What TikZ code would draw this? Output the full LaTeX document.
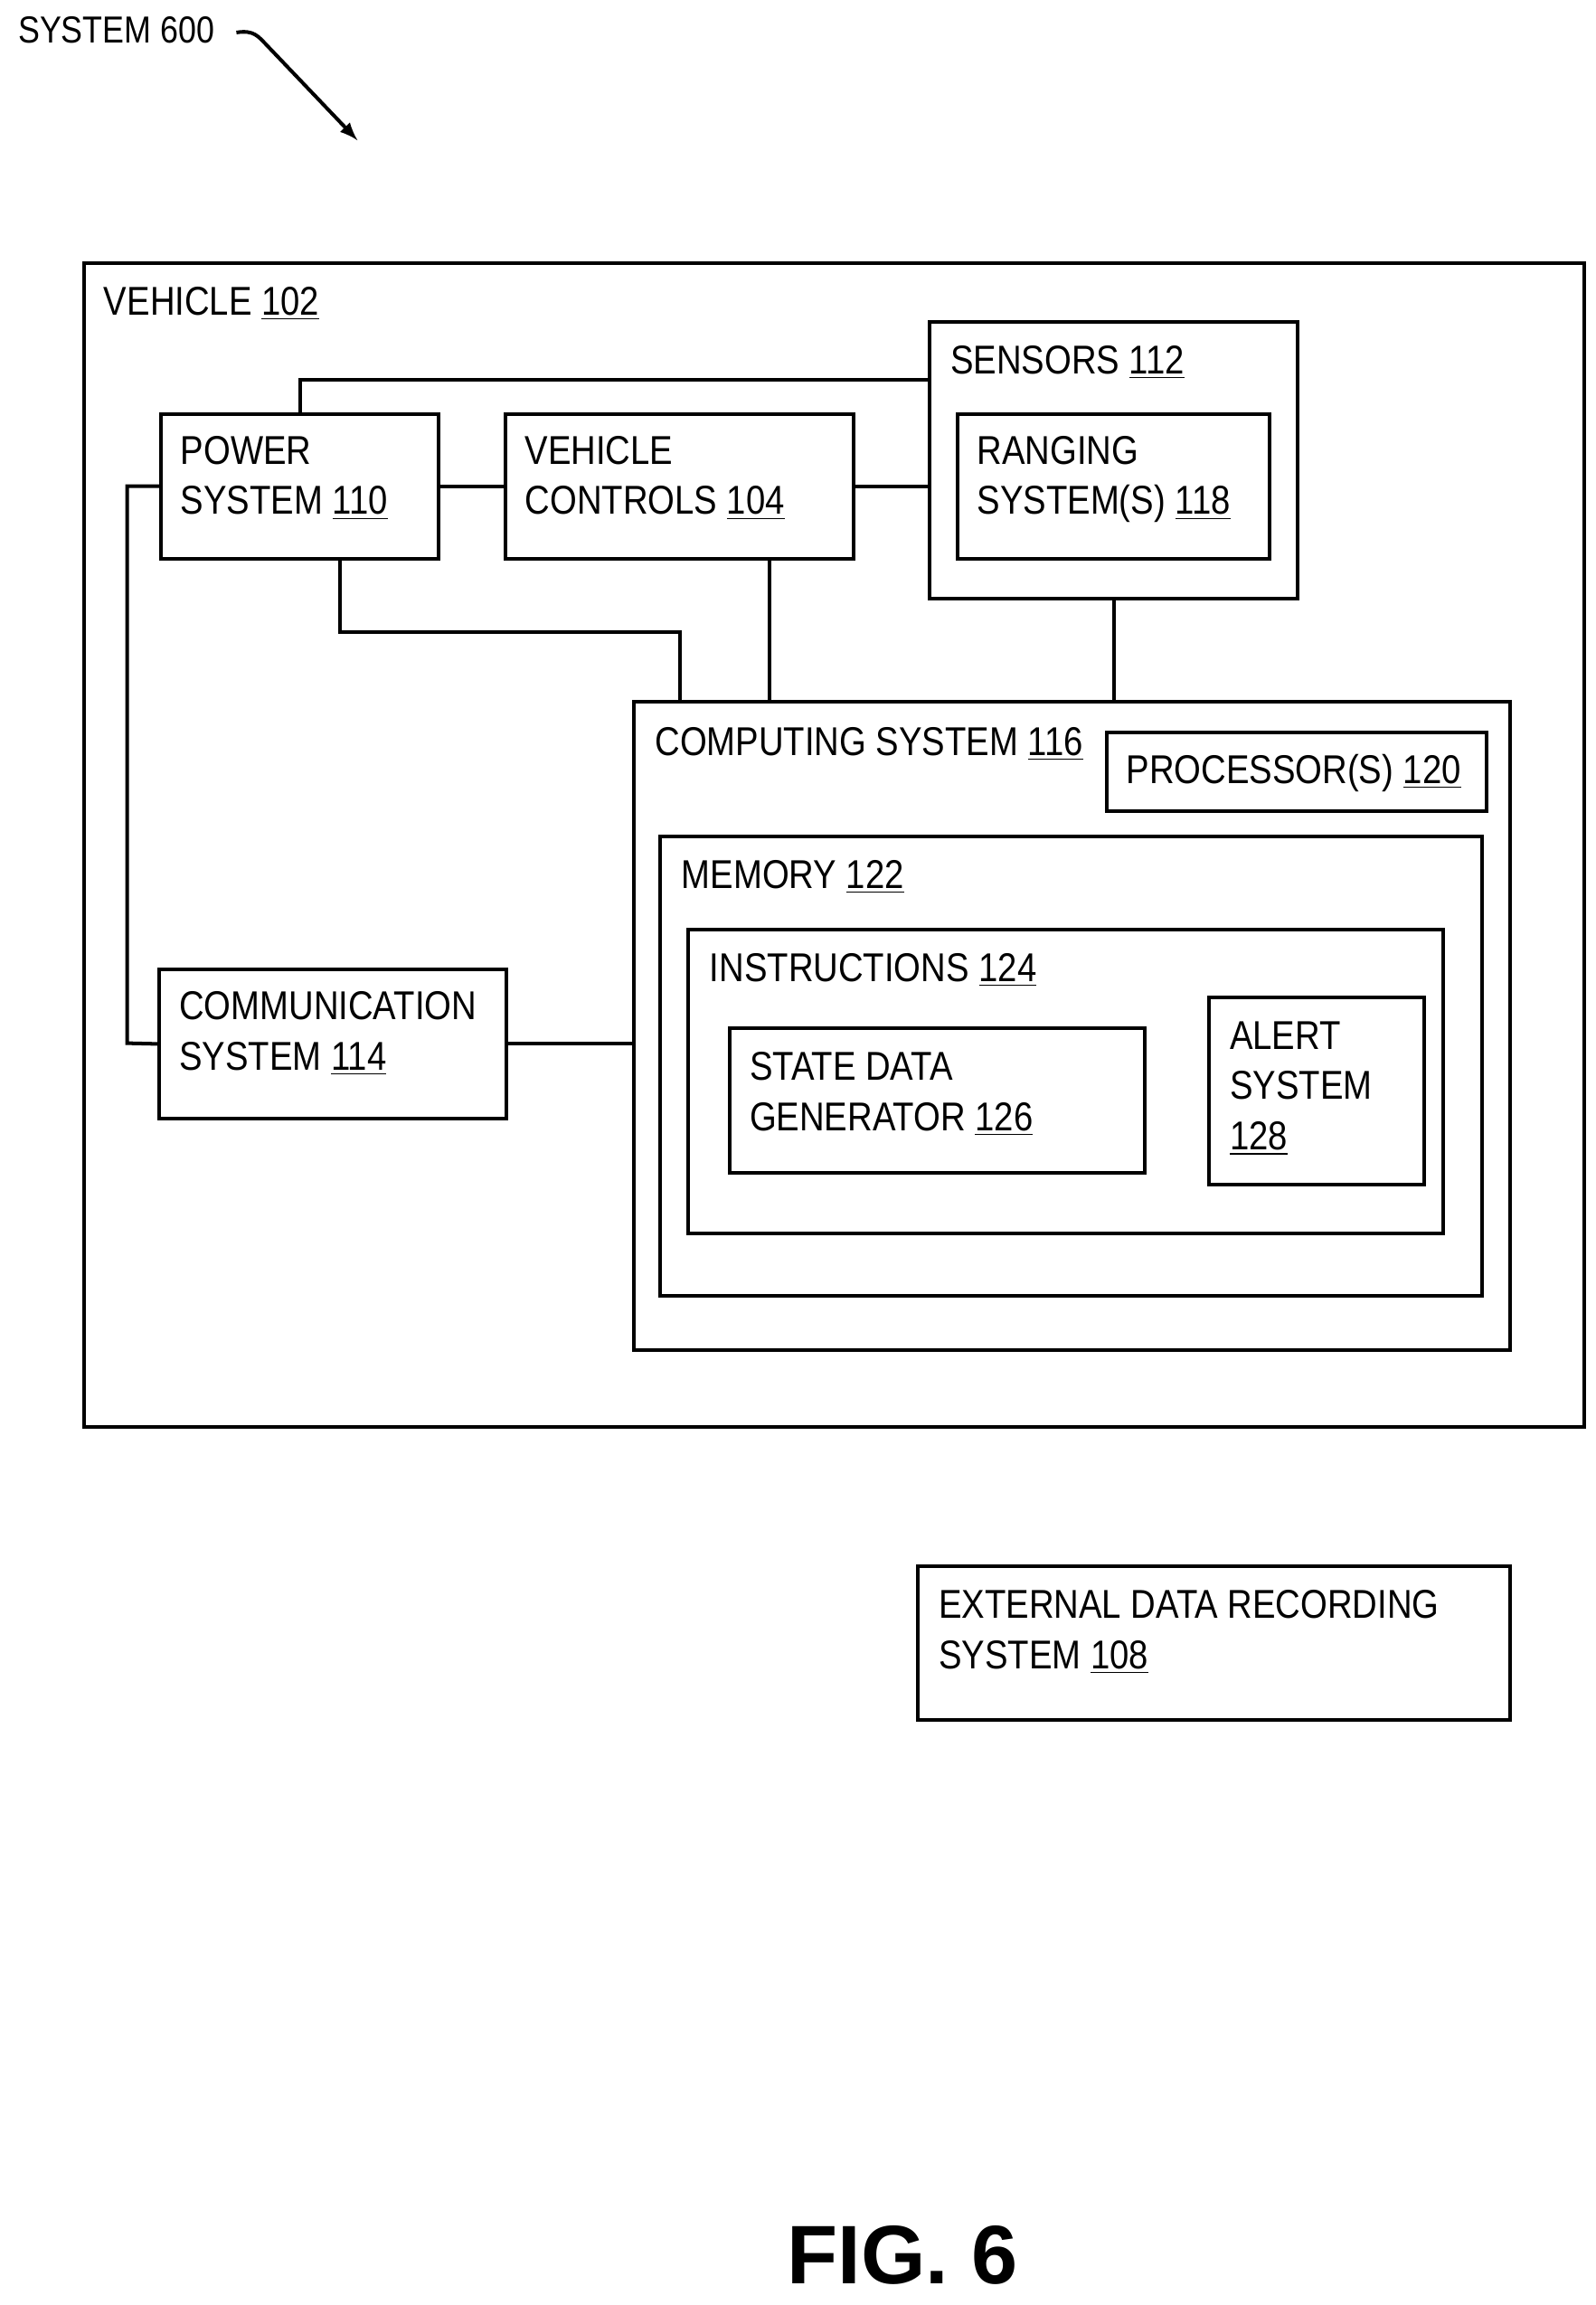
\documentclass[tikz,border=0pt]{standalone}
\usepackage{fontspec}
\setmainfont{Liberation Sans}[FakeStretch=0.86]
\newfontfamily\figfont{Liberation Sans}
\usetikzlibrary{fit,calc}
\begin{document}
\begin{tikzpicture}[x=0.02cm,y=-0.02cm,
 box/.style={draw,line width=1.4pt,inner sep=0pt},
 t/.style={anchor=mid west,inner sep=0pt,yshift=-0.03cm,font=\fontsize{15.5}{18}\selectfont},
 ln/.style={line width=1.4pt}]
\useasboundingbox (0,0) rectangle (1080,1560);
\node[anchor=mid west,inner sep=0pt,yshift=-0.03cm,font=\fontsize{14.5}{17}\selectfont] (s600) at (12,23) {SYSTEM 600};
\coordinate (a0) at (160,22);
\coordinate (a1) at (242,95);
\draw[line width=1.4pt,-latex] (a0) .. controls (172,20) and (175,25) .. (180,30) -- (a1);
\node[box,fit={(57,178)(1072,966)}] (veh) {};
\node[t] (vehl) at (70,207) {VEHICLE \underline{102}};
\node[box,fit={(109,280)(297,378)}] (pw) {};
\node[t] at (122,308) {POWER};
\node[t] at (122,342) {SYSTEM \underline{110}};
\node[box,fit={(342,280)(578,378)}] (vc) {};
\node[t] at (355,308) {VEHICLE};
\node[t] at (355,342) {CONTROLS \underline{104}};
\node[box,fit={(629,218)(878,405)}] (sen) {};
\node[t] at (643,247) {SENSORS \underline{112}};
\node[box,fit={(648,280)(859,378)}] (rng) {};
\node[t] at (661,308) {RANGING};
\node[t] at (661,342) {SYSTEM(S) \underline{118}};
\node[box,fit={(429,475)(1022,914)}] (cmp) {};
\node[t] at (443,505) {COMPUTING SYSTEM \underline{116}};
\node[box,fit={(749,496)(1006,549)}] (prc) {};
\node[t] at (762,524) {PROCESSOR(S) \underline{120}};
\node[box,fit={(447,566)(1003,877)}] (mem) {};
\node[t] at (461,595) {MEMORY \underline{122}};
\node[box,fit={(466,629)(977,835)}] (ins) {};
\node[t] at (480,658) {INSTRUCTIONS \underline{124}};
\node[box,fit={(494,696)(775,794)}] (sdg) {};
\node[t] at (507,725) {STATE DATA};
\node[t] at (507,759) {GENERATOR \underline{126}};
\node[box,fit={(818,675)(964,802)}] (alr) {};
\node[t] at (832,704) {ALERT};
\node[t] at (832,738) {SYSTEM};
\node[t] at (832,772) {\underline{128}};
\node[box,fit={(108,656)(343,757)}] (com) {};
\node[t] at (121,684) {COMMUNICATION};
\node[t] at (121,718) {SYSTEM \underline{114}};
\node[box,fit={(621,1060)(1022,1164)}] (ext) {};
\node[t] at (635,1089) {EXTERNAL DATA RECORDING};
\node[t] at (635,1123) {SYSTEM \underline{108}};
\node[font=\figfont\bfseries\fontsize{32}{36}\selectfont,inner sep=0pt] (fig) at (611,1526) {FIG. 6};
% connectors
\coordinate (vcb) at ($(vc.south)+(61,0)$);
\coordinate (pwb) at ($(pw.south)+(27,0)$);
\coordinate (pwr) at (460,428);
\coordinate (sb) at (754,405);
\coordinate (cl) at (86,706);
\draw[ln] (pw.north) |- (sen.west |- 0,257);
\draw[ln] (pw.east) -- (vc.west);
\draw[ln] (vc.east) -- (vc.east -| sen.west);
\draw[ln] (pwb) |- (pwr) -- (pwr |- cmp.north);
\draw[ln] (vcb) -- (vcb |- cmp.north);
\draw[ln] (sb) -- (sb |- cmp.north);
\draw[ln] (pw.west) -| (cl) -- (com.west);
\draw[ln] (com.east) -- (com.east -| cmp.west);
\end{tikzpicture}
\end{document}
